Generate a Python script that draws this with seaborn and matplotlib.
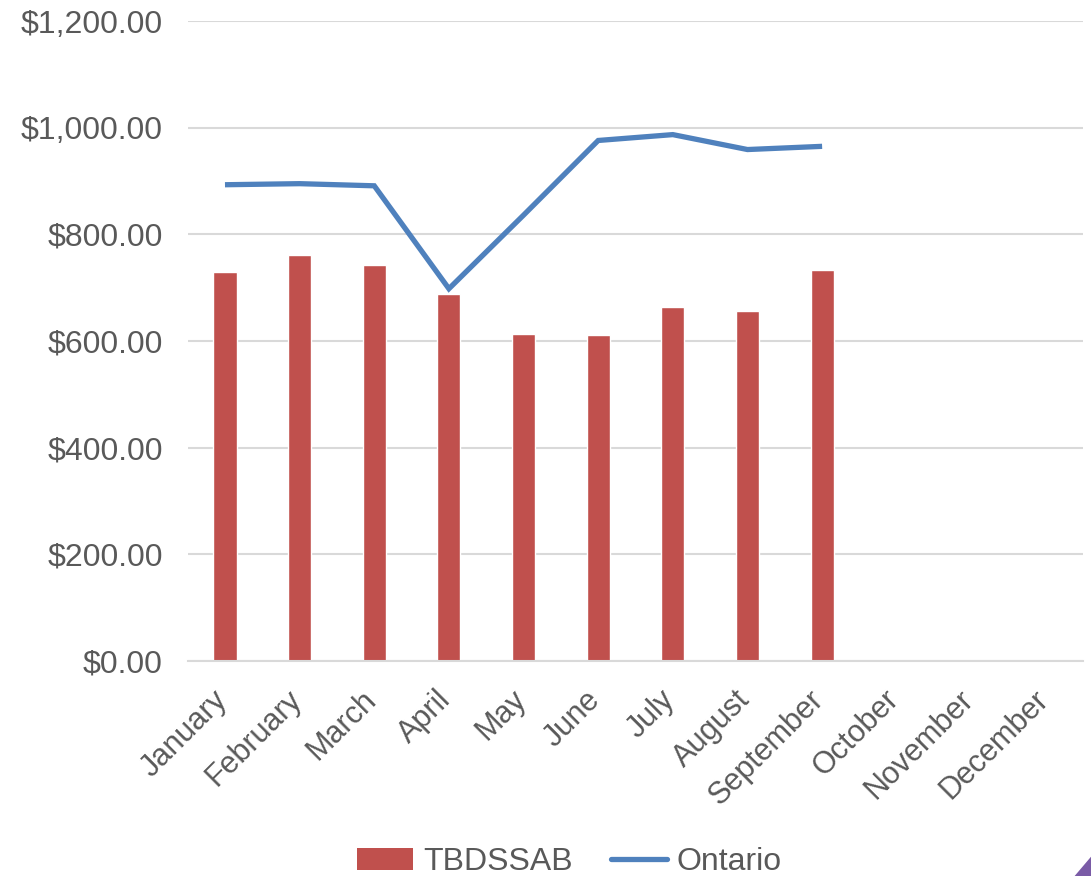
import numpy as np
import pandas as pd
import seaborn as sns
import matplotlib.pyplot as plt
import matplotlib.transforms as mtransforms
from matplotlib.patches import Patch, Polygon
from matplotlib.lines import Line2D
from matplotlib.ticker import FuncFormatter, MultipleLocator

# --- Data ---
months = ['January', 'February', 'March', 'April', 'May', 'June',
          'July', 'August', 'September', 'October', 'November', 'December']
tbdssab = [729, 762, 742, 689, 613, 611, 663, 656, 734, np.nan, np.nan, np.nan]
ontario = [893, 895, 891, 698, 836, 976, 987, 959, 965, np.nan, np.nan, np.nan]

df = pd.DataFrame({'month': months, 'TBDSSAB': tbdssab, 'Ontario': ontario})

bar_color = '#C0504D'
line_color = '#4F81BD'
text_color = '#595959'
grid_color = '#D9D9D9'

sns.set_style('white')
plt.rcParams['font.family'] = ['Liberation Sans', 'DejaVu Sans']

fig = plt.figure(figsize=(10.91, 8.76), dpi=100)
ax = fig.add_axes([0.172, 0.2455, 0.821, 0.7305])

# bars
sns.barplot(data=df, x='month', y='TBDSSAB', color=bar_color, width=0.31,
            saturation=1, ax=ax, zorder=2)

# line on the same categorical positions
sns.pointplot(data=df, x='month', y='Ontario', color=line_color, markers='',
              errorbar=None, ax=ax, zorder=3)
for ln in ax.lines:
    ln.set_linewidth(3.8)
    ln.set_solid_capstyle('butt')
    ln.set_solid_joinstyle('miter')

ax.set_ylim(0, 1200)
ax.set_xlim(-0.5, 11.5)
ax.yaxis.set_major_locator(MultipleLocator(200))
ax.yaxis.set_major_formatter(FuncFormatter(lambda v, p: f'${v:,.2f}'))
ax.grid(axis='y', color=grid_color, linewidth=1.5, zorder=0)
ax.set_axisbelow(True)

for s in ['top', 'right', 'left']:
    ax.spines[s].set_visible(False)
ax.spines['bottom'].set_color(grid_color)
ax.spines['bottom'].set_linewidth(1.5)

ax.tick_params(axis='both', length=0, colors=text_color, labelsize=23)
ax.tick_params(axis='y', pad=18)
ax.tick_params(axis='x', pad=4)
shift = mtransforms.ScaledTranslation(-13 / 100, -18 / 100, fig.dpi_scale_trans)
for lbl in ax.get_xticklabels():
    lbl.set_rotation(45)
    lbl.set_ha('right')
    lbl.set_rotation_mode('anchor')
    lbl.set_fontsize(22)
    lbl.set_transform(lbl.get_transform() + shift)
ax.set_xlabel('')
ax.set_ylabel('')

handles = [Patch(facecolor=bar_color, edgecolor='none', label='TBDSSAB'),
           Line2D([0], [0], color=line_color, linewidth=3.8, label='Ontario')]
fig.legend(handles=handles, loc='center', bbox_to_anchor=(0.522, 0.016),
           ncol=2, frameon=False, fontsize=23, labelcolor=text_color,
           handlelength=1.75, handletextpad=0.3, columnspacing=1.2)

# small purple corner decoration from the slide
fig.patches.append(Polygon([[1.0, 0.0], [1.0, 0.022], [0.985, 0.0]],
                           closed=True, transform=fig.transFigure,
                           facecolor='#7A5BA6', edgecolor='none'))

fig.savefig('out.png', dpi=100)
